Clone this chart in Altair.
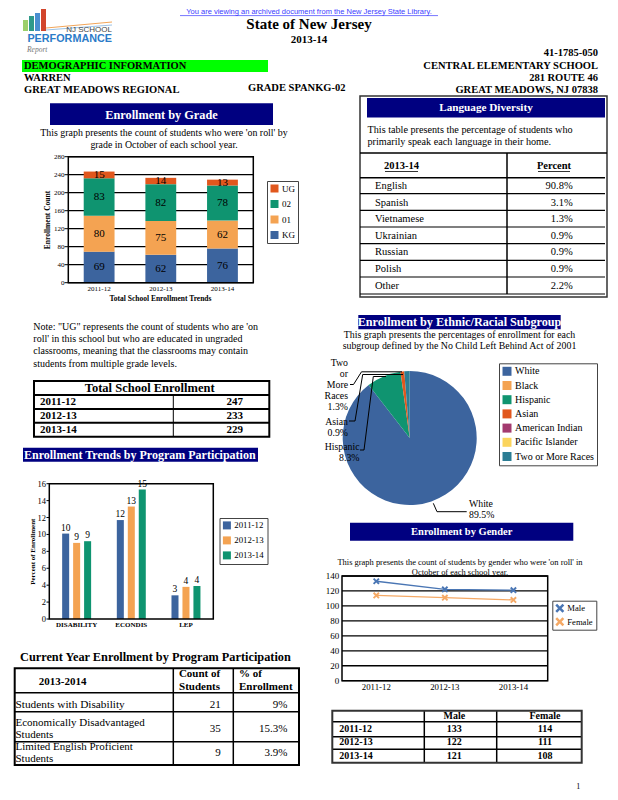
import altair as alt
import pandas as pd

W, H = 602, 784
FONT = "Liberation Serif"
SANS = "Liberation Sans"
NAVY = "#000080"

# ---------------- data ----------------
years = ["2011-12", "2012-13", "2013-14"]
grade_order = ["UG", "02", "01", "KG"]
kg = [69, 62, 76]
g01 = [80, 75, 62]
g02 = [83, 82, 78]
ug = [15, 14, 13]
grade_colors = ["#e1571d", "#0f9470", "#f4a352", "#3c649e"]
grade_ticks = [0, 40, 80, 120, 160, 200, 240, 280]

total_enroll = [247, 233, 229]

lang_names = ["English", "Spanish", "Vietnamese", "Ukrainian", "Russian", "Polish", "Other"]
lang_pct = ["90.8%", "3.1%", "1.3%", "0.9%", "0.9%", "0.9%", "2.2%"]

eth_groups = ["White", "Black", "Hispanic", "Asian", "American Indian", "Pacific Islander", "Two or More Races"]
eth_pct = [89.5, 0.0, 8.3, 0.9, 0.0, 0.0, 1.3]
eth_colors = ["#3c649e", "#f4a352", "#0f9470", "#e1571d", "#a33a6f", "#fbd45c", "#2b7d94"]

programs = ["DISABILITY", "ECONDIS", "LEP"]
prog_2011 = [10.1, 11.7, 2.8]
prog_2012 = [9.0, 13.3, 3.8]
prog_2013 = [9.2, 15.3, 3.9]
prog_colors = ["#3c649e", "#f4a352", "#0f9470"]
prog_ticks = [0, 2, 4, 6, 8, 10, 12, 14, 16]

cur_labels = ["Students with Disability", "Economically Disadvantaged|Students", "Limited English Proficient|Students"]
cur_count = [21, 35, 9]
cur_pct = ["9%", "15.3%", "3.9%"]

genders = ["Male", "Female"]
male = [133, 122, 121]
female = [114, 111, 108]
gender_colors = ["#4a76b4", "#f5a965"]
gender_ticks = [0, 20, 40, 60, 80, 100, 120, 140]

XPATH = "M-1,-0.6L-0.6,-1L0,-0.4L0.6,-1L1,-0.6L0.4,0L1,0.6L0.6,1L0,0.4L-0.6,1L-1,0.6L-0.4,0Z"

# ---------------- helpers ----------------
def cx(v):
    return v - 8

def cy(v):
    return v - 8

ONE = pd.DataFrame({"k": [0]})


def txt(s, x, y, size=10, weight="normal", align="left", color="black", font=FONT,
        angle=0, style="normal", baseline="middle", lh=None):
    kw = dict(text=s, font=font, fontSize=size, fontWeight=weight, fontStyle=style,
              align=align, baseline=baseline, color=color, angle=angle)
    if lh:
        kw["lineHeight"] = lh
    return alt.Chart(ONE).mark_text(**kw).encode(x=alt.value(cx(x)), y=alt.value(cy(y)))


def rect(x1, y1, x2, y2, fill="transparent", stroke=None, sw=1):
    kw = dict(fill=fill, strokeWidth=sw)
    if stroke:
        kw["stroke"] = stroke
    return alt.Chart(ONE).mark_rect(**kw).encode(
        x=alt.value(cx(x1)), x2=alt.value(cx(x2)), y=alt.value(cy(y1)), y2=alt.value(cy(y2)))


def seg(x1, y1, x2, y2, color="black", sw=1):
    return alt.Chart(ONE).mark_rule(color=color, strokeWidth=sw).encode(
        x=alt.value(cx(x1)), y=alt.value(cy(y1)), x2=alt.value(cx(x2)), y2=alt.value(cy(y2)))


def y_axis(ticks, scale, label_x, size, grid_x=None, tick_x=None, grid_w=1.3):
    """Tick labels, optional gridlines and tick marks drawn through the chart's y scale."""
    tdf = pd.DataFrame({"v": ticks})
    out = []
    if grid_x:
        out.append(alt.Chart(tdf).mark_rule(color="black", strokeWidth=grid_w).encode(
            y=alt.Y("v:Q", scale=scale, axis=None), x=alt.value(cx(grid_x[0])), x2=alt.value(cx(grid_x[1]))))
    if tick_x:
        out.append(alt.Chart(tdf).mark_rule(color="black", strokeWidth=1).encode(
            y=alt.Y("v:Q", scale=scale, axis=None), x=alt.value(cx(tick_x[0])), x2=alt.value(cx(tick_x[1]))))
    out.append(alt.Chart(tdf).mark_text(font=FONT, fontSize=size, align="right", color="black").encode(
        y=alt.Y("v:Q", scale=scale, axis=None), x=alt.value(cx(label_x)), text="v:Q"))
    return out


def x_labels(cats, scale, y, size, weight="normal"):
    cdf = pd.DataFrame({"c": cats})
    return alt.Chart(cdf).mark_text(font=FONT, fontSize=size, fontWeight=weight, color="black").encode(
        x=alt.X("c:N", scale=scale, axis=None), y=alt.value(cy(y)), text="c:N")


def legend(x, y, size, sym, step_pad, symbol="square"):
    return alt.Legend(orient="none", legendX=cx(x), legendY=cy(y), title=None,
                      symbolType=symbol, symbolSize=sym, symbolStrokeWidth=0,
                      labelFontSize=size, labelOffset=3, padding=3, rowPadding=step_pad,
                      strokeColor="#444444", fillColor="white")


layers = []

# ---------------- header ----------------
layers += [
    txt("You are viewing an archived document from the New Jersey State Library.", 309, 8.2,
        size=7.5, font=SANS, align="center", color="#3b3bff", baseline="top"),
    seg(180, 15.6, 438, 15.6, color="#3b3bff", sw=0.7),
    rect(23, 20, 28, 31, fill="#9ccf6a"),
    rect(29, 16, 34, 31, fill="#2f9a8a"),
    rect(35, 13, 40, 31, fill="#4a8fd0"),
    rect(41, 9, 46, 31, fill="#d2452c"),
    seg(46, 28, 112, 22, color="#f2a65a", sw=1),
    seg(46, 30, 112, 25, color="#9cc3e6", sw=1),
    txt("NJ SCHOOL", 112, 29.5, size=8, font=SANS, align="right", color="#444444"),
    txt("PERFORMANCE", 112, 39, size=10.8, font=SANS, weight="bold", align="right", color="#2b7bc8"),
    txt("Report", 27, 50, size=7.5, style="italic", color="#777777"),
    txt("State of New Jersey", 309, 24, size=15, weight="bold", align="center"),
    txt("2013-14", 309, 40, size=11, weight="bold", align="center"),
    txt("41-1785-050", 598, 53, size=10.5, weight="bold", align="right"),
    rect(22, 60, 268, 72, fill="#00ff00"),
    txt("DEMOGRAPHIC INFORMATION", 24, 66, size=10.5, weight="bold"),
    txt("WARREN", 24, 78, size=10.5, weight="bold"),
    txt("GREAT MEADOWS REGIONAL", 24, 90, size=10.5, weight="bold"),
    txt("GRADE SPANKG-02", 248, 88, size=10.5, weight="bold"),
    txt("CENTRAL ELEMENTARY SCHOOL", 598, 66, size=10.5, weight="bold", align="right"),
    txt("281 ROUTE 46", 598, 78, size=10.5, weight="bold", align="right"),
    txt("GREAT MEADOWS, NJ 07838", 598, 90, size=10.5, weight="bold", align="right"),
]

# ---------------- enrollment by grade ----------------
grade_rows = []
for i, yr in enumerate(years):
    for g, vals, o in [("KG", kg, 0), ("01", g01, 1), ("02", g02, 2), ("UG", ug, 3)]:
        grade_rows.append({"year": yr, "grade": g, "count": vals[i], "ord": o})
grade_df = pd.DataFrame(grade_rows)

gx_scale = alt.Scale(domain=years, range=[cx(68.3), cx(253.3)], paddingInner=0.5, paddingOuter=0.25)
gy_scale = alt.Scale(domain=[0, 280], range=[cy(282.7), cy(156.7)], nice=False)

grade_bars = alt.Chart(grade_df).mark_bar().encode(
    x=alt.X("year:N", scale=gx_scale, axis=None),
    y=alt.Y("count:Q", scale=gy_scale, stack="zero", axis=None),
    color=alt.Color("grade:N", scale=alt.Scale(domain=grade_order, range=grade_colors),
                    legend=legend(267, 181, 9, 64, 5.5)),
    order=alt.Order("ord:Q", sort="ascending"),
)
grade_labels = alt.Chart(grade_df).transform_stack(
    stack="count", groupby=["year"], as_=["c0", "c1"], sort=[alt.SortField("ord", order="ascending")]
).transform_calculate(mid="(datum.c0 + datum.c1) / 2").mark_text(font=FONT, fontSize=11, color="black").encode(
    x=alt.X("year:N", scale=gx_scale, axis=None),
    y=alt.Y("mid:Q", scale=gy_scale, axis=None),
    text="count:Q",
)
layers += [
    rect(50, 103.3, 273, 125, fill=NAVY),
    txt("Enrollment by Grade", 161.5, 114.5, size=12.3, weight="bold", align="center", color="white"),
    txt(["This graph presents the count of students who were 'on roll' by",
         "grade in October of each school year."], 164, 133.3, size=9.9, align="center", lh=12),
]
layers += y_axis(grade_ticks, gy_scale, 64.5, 7, grid_x=(68.3, 253.3), tick_x=(64.5, 68.3))
layers += [
    alt.layer(grade_bars, grade_labels),
    x_labels(years, gx_scale, 289, 7),
    rect(68.3, 156.7, 253.3, 282.7, stroke="black", sw=1.5),
    txt("Enrollment Count", 48, 220, size=7.5, weight="bold", align="center", angle=270),
    txt("Total School Enrollment Trends", 160.5, 299.3, size=7.5, weight="bold", align="center"),
]

# ---------------- note + total table ----------------
note = ['Note: "UG" represents the count of students who are \'on',
        "roll' in this school but who are educated in ungraded",
        "classrooms, meaning that the classrooms may contain",
        "students from multiple grade levels."]
layers.append(txt(note, 33.3, 326.7, size=10, lh=12.3))

tot_df = pd.DataFrame({"year": years, "total": total_enroll})
tot_y = alt.Y("year:N", scale=alt.Scale(domain=years, range=[cy(395), cy(436.7)], paddingInner=0, paddingOuter=0), axis=None)
tot_names = alt.Chart(tot_df).mark_text(font=FONT, fontSize=11, fontWeight="bold", align="left").encode(
    x=alt.value(cx(40)), y=tot_y, text="year:N")
tot_vals = alt.Chart(tot_df).mark_text(font=FONT, fontSize=11, fontWeight="bold", align="right").encode(
    x=alt.value(cx(243)), y=tot_y, text="total:Q")
layers += [
    txt("Total School Enrollment", 149.7, 388.3, size=12.5, weight="bold", align="center"),
    tot_names, tot_vals,
    seg(34, 395, 269.3, 395, sw=2), seg(34, 409, 269.3, 409, sw=2), seg(34, 422.7, 269.3, 422.7, sw=2),
    seg(173.3, 395, 173.3, 436.7, sw=1),
    rect(34, 381, 269.3, 436.7, stroke="black", sw=2),
]

# ---------------- program participation chart ----------------
prog_rows = []
for yr, vals in zip(years, [prog_2011, prog_2012, prog_2013]):
    for p, v in zip(programs, vals):
        prog_rows.append({"program": p, "year": yr, "pct": v})
prog_df = pd.DataFrame(prog_rows)

pr_x = alt.Scale(domain=programs, range=[cx(49.3), cx(213.3)], paddingInner=0.47, paddingOuter=0.235)
pr_off = alt.Scale(domain=years, paddingInner=0.36, paddingOuter=0)
pr_y = alt.Scale(domain=[0, 16], range=[cy(619), cy(483.7)], nice=False)

prog_bars = alt.Chart(prog_df).mark_bar().encode(
    x=alt.X("program:N", scale=pr_x, axis=None),
    xOffset=alt.XOffset("year:N", scale=pr_off),
    y=alt.Y("pct:Q", scale=pr_y, axis=None),
    color=alt.Color("year:N", scale=alt.Scale(domain=years, range=prog_colors),
                    legend=legend(219.5, 518, 8.8, 64, 5)),
)
prog_text = alt.Chart(prog_df).mark_text(font=FONT, fontSize=9.5, dy=-6, color="black").encode(
    x=alt.X("program:N", scale=pr_x, axis=None),
    xOffset=alt.XOffset("year:N", scale=pr_off),
    y=alt.Y("pct:Q", scale=pr_y, axis=None),
    text=alt.Text("pct:Q", format=".0f"),
)
layers += [
    rect(23, 447.7, 258, 461.7, fill=NAVY),
    txt("Enrollment Trends by Program Participation", 24, 455, size=12, weight="bold", color="white"),
]
layers += y_axis(prog_ticks, pr_y, 46, 8.5, tick_x=(46.5, 49.3))
layers += [
    alt.layer(prog_bars, prog_text),
    x_labels(programs, pr_x, 624.5, 7, weight="bold"),
    rect(49.3, 483.7, 213.3, 619, stroke="black", sw=1.5),
    txt("Percent of Enrollment", 32.7, 551.7, size=7, weight="bold", align="center", angle=270),
]

# ---------------- current year table ----------------
cur_df = pd.DataFrame({"label": cur_labels, "count": cur_count, "pct": cur_pct})
cur_y = alt.Y("label:N", scale=alt.Scale(domain=cur_labels, range=[cy(692.7), cy(765)], paddingInner=0, paddingOuter=0), axis=None)
cur_a1 = alt.Chart(cur_df).transform_filter("indexof(datum.label, '|') < 0").mark_text(
    font=FONT, fontSize=11.3, align="left").encode(x=alt.value(cx(15.5)), y=cur_y, text="label:N")
cur_a2 = alt.Chart(cur_df).transform_filter("indexof(datum.label, '|') >= 0").mark_text(
    font=FONT, fontSize=11, align="left", lineBreak="|", lineHeight=12.4, dy=-6).encode(
    x=alt.value(cx(15.5)), y=cur_y, text="label:N")
cur_b = alt.Chart(cur_df).mark_text(font=FONT, fontSize=11, align="right").encode(
    x=alt.value(cx(220.7)), y=cur_y, text="count:Q")
cur_c = alt.Chart(cur_df).mark_text(font=FONT, fontSize=11, align="right").encode(
    x=alt.value(cx(287.3)), y=cur_y, text="pct:N")
layers += [
    txt("Current Year Enrollment by Program Participation", 20, 657.3, size=12.3, weight="bold"),
    txt("2013-2014", 62.7, 681.7, size=11, weight="bold", align="center"),
    txt(["Count of", "Students"], 199.5, 674.3, size=11, weight="bold", align="center", lh=12.4),
    txt(["% of", "Enrollment"], 239, 674.3, size=11, weight="bold", lh=12.4),
    cur_a1, cur_a2, cur_b, cur_c,
    seg(14.7, 692.7, 299, 692.7, sw=1.5), seg(14.7, 711.7, 299, 711.7, sw=1.5), seg(14.7, 741.7, 299, 741.7, sw=1.5),
    seg(173.3, 668.3, 173.3, 765, sw=1.5), seg(233.3, 668.3, 233.3, 765, sw=1.5),
    rect(14.7, 668.3, 299, 765, stroke="black", sw=2),
]

# ---------------- language diversity ----------------
lang_df = pd.DataFrame({"lang": lang_names, "pct": lang_pct})
lang_y = alt.Y("lang:N", scale=alt.Scale(domain=lang_names, range=[cy(177.7), cy(294)], paddingInner=0, paddingOuter=0), axis=None)
lang_a = alt.Chart(lang_df).mark_text(font=FONT, fontSize=10.5, align="left").encode(
    x=alt.value(cx(375)), y=lang_y, text="lang:N")
lang_b = alt.Chart(lang_df).mark_text(font=FONT, fontSize=10.5, align="right").encode(
    x=alt.value(cx(572.7)), y=lang_y, text="pct:N")
layers += [
    rect(360, 96, 607, 297, stroke="#333333", sw=1.5),
    rect(367, 98, 605, 117.5, fill=NAVY),
    txt("Language Diversity", 486, 107.8, size=11.2, weight="bold", align="center", color="white"),
    txt(["This table presents the percentage of students who",
         "primarily speak each language in their home."], 367.5, 130, size=10.2, lh=12.3),
    seg(360, 153, 607, 153, sw=1.5),
    txt("2013-14", 401.5, 165.7, size=10.5, weight="bold", align="center"),
    txt("Percent", 554, 165.7, size=10.5, weight="bold", align="center"),
    seg(385, 171.5, 418, 171.5, sw=0.8), seg(538, 171.5, 570, 171.5, sw=0.8),
    seg(360, 177.7, 605, 177.7, sw=1.5),
    lang_a, lang_b,
    seg(360, 193.7, 605, 193.7, sw=1.2), seg(360, 210.3, 605, 210.3, sw=1.2),
    seg(360, 227, 605, 227, sw=1.2), seg(360, 243.7, 605, 243.7, sw=1.2),
    seg(360, 260.3, 605, 260.3, sw=1.2), seg(360, 277, 605, 277, sw=1.2),
    seg(360, 294, 605, 294, sw=1.2),
    seg(507, 153, 507, 294, sw=1.5),
]

# ---------------- ethnic pie ----------------
eth_df = pd.DataFrame({"group": eth_groups, "pct": eth_pct, "idx": list(range(len(eth_groups)))})
pie = alt.Chart(eth_df).mark_arc(radius=67).encode(
    theta=alt.Theta("pct:Q", stack=True),
    color=alt.Color("group:N", scale=alt.Scale(domain=eth_groups, range=eth_colors),
                    legend=legend(499, 363.3, 10, 81, 4.2)),
    order=alt.Order("idx:Q"),
    x=alt.value(cx(409.7)),
    y=alt.value(cy(438)),
)
layers += [
    rect(358.3, 315, 560.7, 329.3, fill=NAVY),
    txt("Enrollment by Ethnic/Racial Subgroup", 459.5, 322.3, size=12.2, weight="bold", align="center", color="white"),
    txt(["This graph presents the percentages of enrollment for each",
         "subgroup defined by the No Child Left Behind Act of 2001"], 459.5, 335, size=9.9, align="center", lh=11.3),
    pie,
    txt(["Two", "or", "More", "Races", "1.3%"], 348, 363.3, size=9.8, align="right", lh=11),
    txt(["Asian", "0.9%"], 348, 422, size=9.8, align="right", lh=11),
    txt(["Hispanic", "8.3%"], 359.5, 447, size=9.8, align="right", lh=11),
    txt(["White", "89.5%"], 469, 504, size=9.8, lh=11),
    seg(350, 384.5, 353.5, 384.5), seg(353.5, 384.5, 361.5, 371.8), seg(361.5, 371.8, 402, 371.8),
    seg(349, 421, 355, 421), seg(355, 421, 362.7, 374.5), seg(362.7, 374.5, 403, 374.5),
    seg(360, 450, 364, 450), seg(364, 450, 373.3, 376.5), seg(373.3, 376.5, 386, 376.5),
    seg(433.3, 503.3, 437, 511.7), seg(437, 511.7, 466.7, 511.7),
]

# ---------------- gender chart ----------------
gen_rows = []
for g, vals in zip(genders, [male, female]):
    for yr, v in zip(years, vals):
        gen_rows.append({"year": yr, "gender": g, "count": v})
gen_df = pd.DataFrame(gen_rows)

ge_x = alt.Scale(type="point", domain=years, range=[cx(342), cx(547.7)], padding=0.5)
ge_y = alt.Scale(domain=[0, 140], range=[cy(680.7), cy(576)], nice=False)
ge_legend = legend(552.3, 600.7, 8.6, 80, 3.5, symbol=XPATH)
ge_color = alt.Color("gender:N", scale=alt.Scale(domain=genders, range=gender_colors), legend=ge_legend)
gen_line = alt.Chart(gen_df).mark_line(strokeWidth=1.3).encode(
    x=alt.X("year:N", scale=ge_x, axis=None),
    y=alt.Y("count:Q", scale=ge_y, axis=None),
    color=ge_color,
)
gen_pts = alt.Chart(gen_df).mark_point(shape=XPATH, filled=True, size=45, opacity=1).encode(
    x=alt.X("year:N", scale=ge_x, axis=None),
    y=alt.Y("count:Q", scale=ge_y, axis=None),
    color=ge_color,
)
layers += [
    rect(350, 522.7, 573.3, 540.7, fill=NAVY),
    txt("Enrollment by Gender", 461.7, 531.8, size=10.5, weight="bold", align="center", color="white"),
    txt(["This graph presents the count of students by gender who were 'on roll' in",
         "October of each school year."], 460, 561.7, size=8.45, align="center", lh=10),
]
layers += y_axis(gender_ticks, ge_y, 339.3, 9, grid_x=(342, 547.7))
layers += [
    alt.layer(gen_line, gen_pts),
    x_labels(years, ge_x, 686.7, 8.8),
    rect(342, 576, 547.7, 680.7, stroke="black", sw=1.5),
]

# ---------------- gender table ----------------
gt_df = pd.DataFrame({"year": years, "male": male, "female": female})
gt_y = alt.Y("year:N", scale=alt.Scale(domain=years, range=[cy(721.7), cy(762.7)], paddingInner=0, paddingOuter=0), axis=None)
gt_a = alt.Chart(gt_df).mark_text(font=FONT, fontSize=10, fontWeight="bold", align="left").encode(
    x=alt.value(cx(339.3)), y=gt_y, text="year:N")
gt_b = alt.Chart(gt_df).mark_text(font=FONT, fontSize=10, fontWeight="bold", align="center").encode(
    x=alt.value(cx(454.3)), y=gt_y, text="male:Q")
gt_c = alt.Chart(gt_df).mark_text(font=FONT, fontSize=10, fontWeight="bold", align="center").encode(
    x=alt.value(cx(545)), y=gt_y, text="female:Q")
layers += [
    txt("Male", 454.3, 716, size=10, weight="bold", align="center"),
    txt("Female", 545, 716, size=10, weight="bold", align="center"),
    gt_a, gt_b, gt_c,
    seg(332.3, 721.7, 581.7, 721.7, sw=1.5), seg(332.3, 736.7, 581.7, 736.7, sw=1.5),
    seg(332.3, 749.3, 581.7, 749.3, sw=1.5),
    seg(424.3, 710.7, 424.3, 762.7, sw=1.5), seg(496.7, 710.7, 496.7, 762.7, sw=1.5),
    rect(332.3, 710.7, 581.7, 762.7, stroke="#333333", sw=2),
    txt("1", 578.3, 791, size=8, align="center", baseline="bottom"),
]

chart = alt.layer(*layers).resolve_scale(
    x="independent", y="independent", color="independent", theta="independent",
    xOffset="independent", shape="independent"
).properties(
    width=W, height=H, padding=0, autosize=alt.AutoSizeParams(type="none"), background="white"
).configure_view(stroke=None).configure_legend(labelFont=FONT, labelColor="black", titleFont=FONT)

chart.save("out.html", embed_options={"renderer": "svg", "actions": False})
